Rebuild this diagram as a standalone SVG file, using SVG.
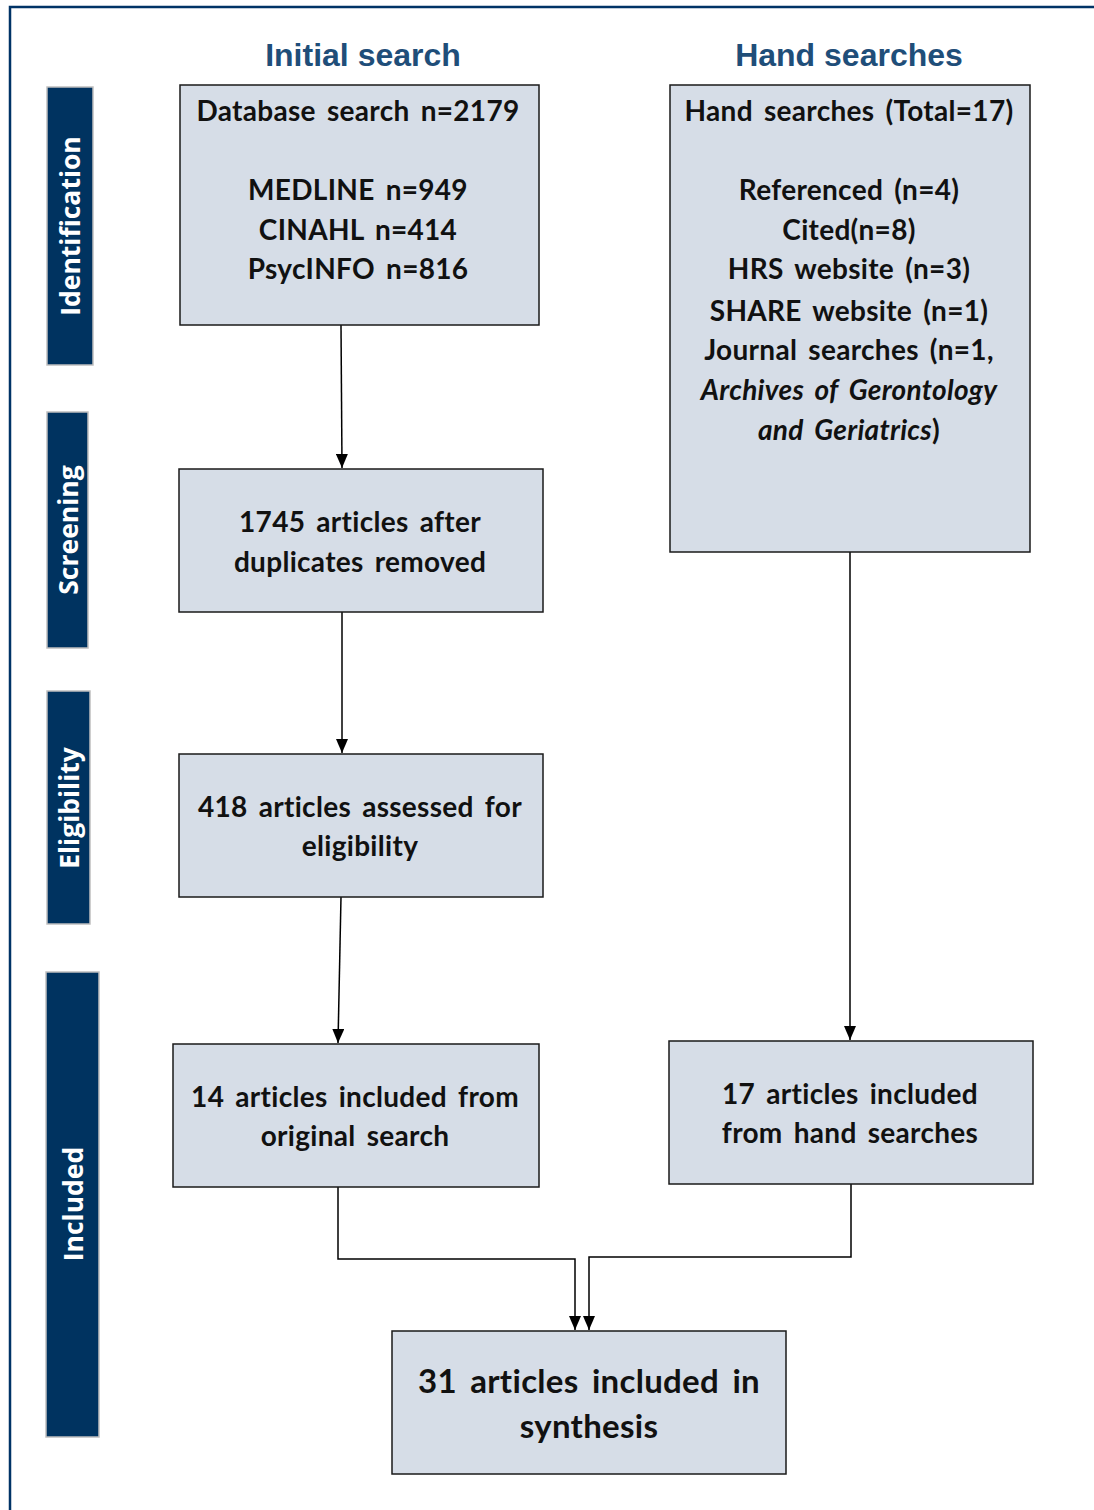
<svg xmlns="http://www.w3.org/2000/svg" width="1094" height="1510" viewBox="0 0 1094 1510">
<style>
.frame{fill:none;stroke:#003366;stroke-width:2.5}
.box{fill:#d6dde7;stroke:#1a1a1a;stroke-width:1.5}
.bar{fill:#003360;stroke:#bfbfbf;stroke-width:1.5}
.t{font-family:Lato,"Liberation Sans",sans-serif;font-weight:bold;font-size:28px;fill:#111;text-anchor:middle;word-spacing:4px;letter-spacing:0.3px}
.big{font-size:33px;word-spacing:5px}
.it{font-style:italic}
.side{font-family:"Open Sans","Liberation Sans",sans-serif;font-weight:bold;font-size:26.5px;fill:#fff;text-anchor:middle}
.head{font-family:"Liberation Sans",Arial,sans-serif;font-weight:bold;font-size:32px;fill:#1f4e79;text-anchor:middle}
.conn{fill:none;stroke:#000;stroke-width:1.5}
</style>
<defs>
<marker id="ah" markerWidth="14" markerHeight="12" refX="14" refY="6" orient="auto" markerUnits="userSpaceOnUse" viewBox="0 0 14 12">
<path d="M0,0 L14,6 L0,12 Z" fill="#000"/>
</marker>
</defs>
<path class="frame" d="M1094,7 H10 V1510"/>
<g id="headers">
<text class="head" x="363" y="66">Initial search</text>
<text class="head" x="849" y="66">Hand searches</text>
</g>
<g id="phase-identification"><rect class="bar" x="47" y="87" width="46" height="278"/><text class="side" transform="translate(80 226) rotate(-90)">Identification</text></g>
<g id="phase-screening"><rect class="bar" x="47" y="412" width="41" height="236"/><text class="side" transform="translate(78 530) rotate(-90)">Screening</text></g>
<g id="phase-eligibility"><rect class="bar" x="47" y="691" width="43" height="233"/><text class="side" transform="translate(79 808) rotate(-90)">Eligibility</text></g>
<g id="phase-included"><rect class="bar" x="46" y="972" width="53" height="465"/><text class="side" transform="translate(83 1204) rotate(-90)">Included</text></g>
<g id="connectors">
<path class="conn" d="M341,325 L342,468" marker-end="url(#ah)"/>
<path class="conn" d="M342,612 L342,753" marker-end="url(#ah)"/>
<path class="conn" d="M341,897 L338,1043" marker-end="url(#ah)"/>
<path class="conn" d="M850,552 L850,1040" marker-end="url(#ah)"/>
<path class="conn" d="M338,1187 V1259 H575 V1330" marker-end="url(#ah)"/>
<path class="conn" d="M851,1184 V1257 H589 V1330" marker-end="url(#ah)"/>
</g>
<g id="database">
<rect class="box" x="180" y="85" width="359" height="240"/>
<text class="t" x="358" y="121">Database search n=2179</text>
<text class="t" x="358" y="200">MEDLINE n=949</text>
<text class="t" x="358" y="240">CINAHL n=414</text>
<text class="t" x="358" y="279">PsycINFO n=816</text>
</g>
<g id="hand">
<rect class="box" x="670" y="85" width="360" height="467"/>
<text class="t" x="849" y="121">Hand searches (Total=17)</text>
<text class="t" x="849" y="200">Referenced (n=4)</text>
<text class="t" x="849" y="240">Cited(n=8)</text>
<text class="t" x="849" y="279">HRS website (n=3)</text>
<text class="t" x="849" y="321">SHARE website (n=1)</text>
<text class="t" x="849" y="360">Journal searches (n=1,</text>
<text class="t it" x="849" y="400">Archives of Gerontology</text>
<text class="t" x="849" y="440"><tspan class="it">and Geriatrics</tspan>)</text>
</g>
<g id="dedup">
<rect class="box" x="179" y="469" width="364" height="143"/>
<text class="t" x="360" y="532">1745 articles after</text>
<text class="t" x="360" y="572">duplicates removed</text>
</g>
<g id="eligible">
<rect class="box" x="179" y="754" width="364" height="143"/>
<text class="t" x="360" y="817">418 articles assessed for</text>
<text class="t" x="360" y="856">eligibility</text>
</g>
<g id="included-original">
<rect class="box" x="173" y="1044" width="366" height="143"/>
<text class="t" x="355" y="1107">14 articles included from</text>
<text class="t" x="355" y="1146">original search</text>
</g>
<g id="included-hand">
<rect class="box" x="669" y="1041" width="364" height="143"/>
<text class="t" x="850" y="1104">17 articles included</text>
<text class="t" x="850" y="1143">from hand searches</text>
</g>
<g id="synthesis">
<rect class="box" x="392" y="1331" width="394" height="143"/>
<text class="t big" x="589" y="1393">31 articles included in</text>
<text class="t big" x="589" y="1438">synthesis</text>
</g>
</svg>
